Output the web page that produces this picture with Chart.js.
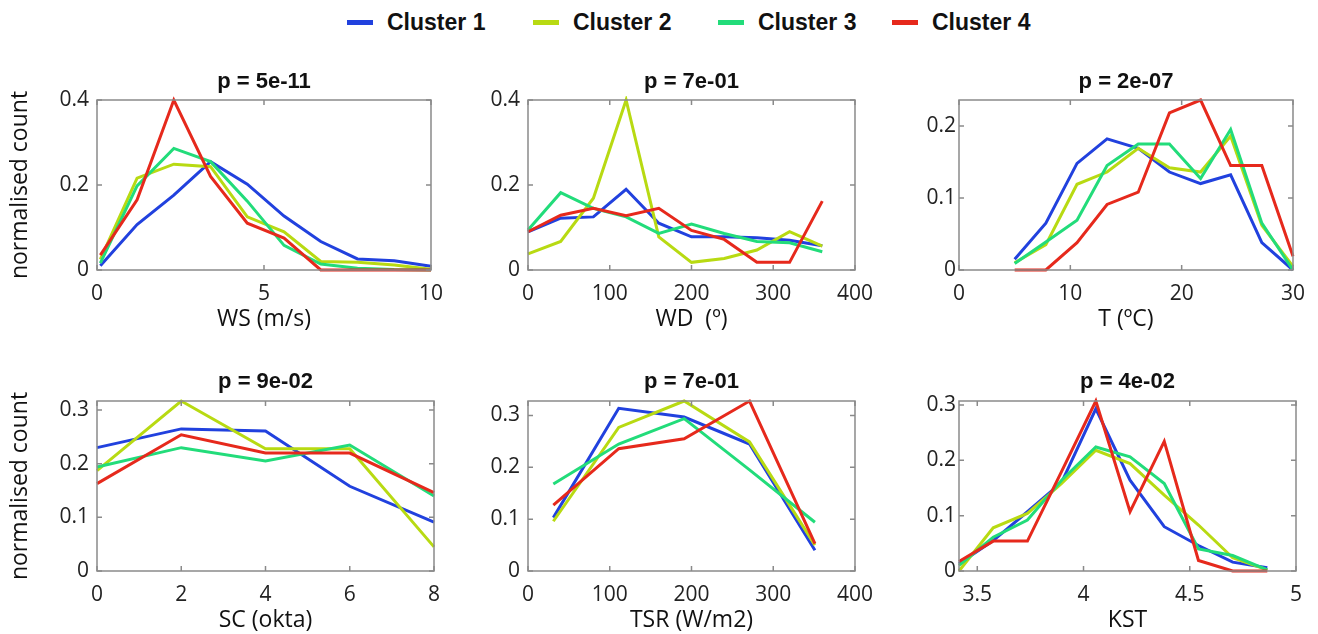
<!DOCTYPE html>
<html>
<head>
<meta charset="utf-8">
<title>Cluster distributions</title>
<script src="https://cdn.jsdelivr.net/npm/chart.js@4.4.1/dist/chart.umd.min.js"></script>
<style>
  body { margin: 0; background: #fff; width: 1318px; height: 634px; overflow: hidden; position: relative; }
  .panel { position: absolute; }
  .panel canvas { display: block; }
  .legend-item { position: absolute; top: 8px; height: 28px; display: flex; align-items: center;
    font-family: "Liberation Sans", Arial, sans-serif; font-weight: bold; font-size: 23px; color: #111; }
  .legend-item .swatch { width: 26px; height: 5px; margin-right: 14px; }
</style>
</head>
<body>
<div id="legend"></div>
<div id="panels"></div>
<script>
const clusterNames = ["Cluster 1", "Cluster 2", "Cluster 3", "Cluster 4"];
const clusterColors = ["#2141de", "#b8da12", "#22dc7a", "#e6291c"];
const yTitle = "normalised count";

// wind speed
const wsX = [0.1, 1.2, 2.3, 3.4, 4.5, 5.6, 6.7, 7.8, 8.9, 10];
const wsC1 = [0.010, 0.107, 0.176, 0.255, 0.202, 0.127, 0.067, 0.026, 0.022, 0.009];
const wsC2 = [0.025, 0.216, 0.249, 0.243, 0.125, 0.090, 0.020, 0.018, 0.012, 0.002];
const wsC3 = [0.016, 0.198, 0.286, 0.255, 0.162, 0.058, 0.014, 0.004, 0.001, 0.000];
const wsC4 = [0.035, 0.165, 0.400, 0.220, 0.110, 0.075, 0.000, 0.000, 0.000, 0.000];

// wind direction
const wdX = [0, 40, 80, 120, 160, 200, 240, 280, 320, 360];
const wdC1 = [0.090, 0.122, 0.125, 0.190, 0.110, 0.078, 0.078, 0.076, 0.070, 0.057];
const wdC2 = [0.038, 0.067, 0.169, 0.400, 0.078, 0.018, 0.027, 0.047, 0.090, 0.056];
const wdC3 = [0.094, 0.182, 0.145, 0.125, 0.086, 0.108, 0.086, 0.067, 0.064, 0.043];
const wdC4 = [0.090, 0.129, 0.145, 0.128, 0.145, 0.093, 0.072, 0.018, 0.018, 0.162];

// temperature
const tX = [5, 7.8, 10.6, 13.3, 16.1, 18.9, 21.7, 24.4, 27.2, 30];
const tC1 = [0.015, 0.065, 0.148, 0.182, 0.169, 0.136, 0.120, 0.132, 0.038, 0.000];
const tC2 = [0.010, 0.035, 0.119, 0.136, 0.169, 0.142, 0.136, 0.186, 0.062, 0.005];
const tC3 = [0.009, 0.039, 0.069, 0.145, 0.175, 0.175, 0.127, 0.195, 0.065, 0.000];
const tC4 = [0.000, 0.000, 0.038, 0.091, 0.108, 0.218, 0.236, 0.145, 0.145, 0.019];

// sky cover
const scX = [0, 2, 4, 6, 8];
const scC1 = [0.230, 0.265, 0.261, 0.158, 0.091];
const scC2 = [0.187, 0.317, 0.228, 0.228, 0.045];
const scC3 = [0.194, 0.230, 0.205, 0.235, 0.140];
const scC4 = [0.163, 0.254, 0.220, 0.220, 0.146];

// total solar radiation
const tsrX = [31, 111, 191, 271, 351];
const tsrC1 = [0.103, 0.314, 0.297, 0.245, 0.040];
const tsrC2 = [0.096, 0.277, 0.328, 0.249, 0.050];
const tsrC3 = [0.168, 0.245, 0.294, 0.195, 0.094];
const tsrC4 = [0.127, 0.236, 0.255, 0.328, 0.053];

// KST
const kstX = [3.414, 3.575, 3.736, 3.897, 4.058, 4.219, 4.380, 4.541, 4.702, 4.865];
const kstC1 = [0.013, 0.055, 0.107, 0.160, 0.293, 0.164, 0.080, 0.046, 0.016, 0.006];
const kstC2 = [0.000, 0.078, 0.104, 0.158, 0.218, 0.194, 0.137, 0.083, 0.024, 0.002];
const kstC3 = [0.010, 0.061, 0.092, 0.164, 0.224, 0.206, 0.158, 0.040, 0.028, 0.002];
const kstC4 = [0.017, 0.054, 0.054, 0.180, 0.307, 0.107, 0.234, 0.019, 0.000, 0.000];

const pTitles = ["p = 5e-11", "p = 7e-01", "p = 2e-07", "p = 9e-02", "p = 7e-01", "p = 4e-02"];
const xTitles = ["WS (m/s)", "WD  (\u00ba)", "T (\u00baC)", "SC (okta)", "TSR (W/m2)", "KST"];

const panels = [
  { xs: wsX, ys: [wsC1, wsC2, wsC3, wsC4], xMin: 0, xMax: 10, xStep: 5, yMax: 0.4, yStep: 0.2 },
  { xs: wdX, ys: [wdC1, wdC2, wdC3, wdC4], xMin: 0, xMax: 400, xStep: 100, yMax: 0.4, yStep: 0.2 },
  { xs: tX, ys: [tC1, tC2, tC3, tC4], xMin: 0, xMax: 30, xStep: 10, yMax: 0.236, yStep: 0.1 },
  { xs: scX, ys: [scC1, scC2, scC3, scC4], xMin: 0, xMax: 8, xStep: 2, yMax: 0.317, yStep: 0.1 },
  { xs: tsrX, ys: [tsrC1, tsrC2, tsrC3, tsrC4], xMin: 0, xMax: 400, xStep: 100, yMax: 0.328, yStep: 0.1 },
  { xs: kstX, ys: [kstC1, kstC2, kstC3, kstC4], xMin: 3.414, xMax: 5, xStep: 0.5, yMax: 0.307, yStep: 0.1 }
];

// plot-area boxes: columns and rows of the 2x3 grid
const cols = [{ left: 97, right: 434, yw: 97, pad: 8 }, { left: 528, right: 864, yw: 60, pad: 8 }, { left: 959, right: 1296, yw: 60, pad: 3 }];
const rows = [{ top: 100, bottom: 270 }, { top: 401, bottom: 571 }];
const TOP_SPACE = 40, X_AXIS_H = 63, RIGHT_PAD = 20;

// legend
const legend = document.getElementById("legend");
const legendX = [347, 533, 718, 892];
clusterNames.forEach((name, i) => {
  const item = document.createElement("div");
  item.className = "legend-item";
  item.style.left = legendX[i] + "px";
  item.innerHTML = `<span class="swatch" style="background:${clusterColors[i]}"></span>${name}`;
  legend.appendChild(item);
});

// box frame with inward ticks on all four sides, plus the p-value title
const framePlugin = {
  id: "frame",
  afterDraw(chart, args, opts) {
    const { ctx, chartArea: a, scales } = chart;
    ctx.save();
    ctx.strokeStyle = "#8a8a8a";
    ctx.lineWidth = 1.5;
    ctx.strokeRect(a.left, a.top, a.right - a.left, a.bottom - a.top);
    const len = 5;
    ctx.beginPath();
    scales.x.ticks.forEach(t => {
      const px = scales.x.getPixelForValue(t.value);
      ctx.moveTo(px, a.bottom); ctx.lineTo(px, a.bottom - len);
      ctx.moveTo(px, a.top); ctx.lineTo(px, a.top + len);
    });
    scales.y.ticks.forEach(t => {
      const py = scales.y.getPixelForValue(t.value);
      ctx.moveTo(a.left, py); ctx.lineTo(a.left + len, py);
      ctx.moveTo(a.right, py); ctx.lineTo(a.right - len, py);
    });
    ctx.stroke();

    ctx.fillStyle = "#111";
    ctx.font = "bold 22px 'Liberation Sans', Arial, sans-serif";
    ctx.textAlign = "center";
    ctx.textBaseline = "middle";
    ctx.fillText(opts.text, (a.left + a.right) / 2, a.top - opts.gap);
    ctx.restore();
  }
};

const tickFont = { family: "'Open Sans', sans-serif", size: 21 };
const titleFont = { family: "'Open Sans', sans-serif", size: 23, lineHeight: 1 };
const plainNumber = v => String(Number(v.toFixed(3)));

const holder = document.getElementById("panels");
panels.forEach((p, k) => {
  const col = cols[k % 3], row = rows[Math.floor(k / 3)];
  const width = col.yw + (col.right - col.left) + RIGHT_PAD;
  const height = TOP_SPACE + (row.bottom - row.top) + X_AXIS_H;

  const wrap = document.createElement("div");
  wrap.className = "panel";
  wrap.style.left = (col.left - col.yw) + "px";
  wrap.style.top = (row.top - TOP_SPACE) + "px";
  const canvas = document.createElement("canvas");
  canvas.width = width;
  canvas.height = height;
  wrap.appendChild(canvas);
  holder.appendChild(wrap);

  const datasets = p.ys.map((vals, i) => ({
    label: clusterNames[i],
    data: p.xs.map((x, j) => ({ x: x, y: vals[j] })),
    borderColor: clusterColors[i],
    borderWidth: 3,
    pointRadius: 0,
    tension: 0,
    clip: 4,
    order: 4 - i
  }));

  new Chart(canvas, {
    type: "line",
    data: { datasets },
    plugins: [framePlugin],
    options: {
      responsive: false,
      animation: false,
      events: [],
      layout: { padding: { top: TOP_SPACE, right: RIGHT_PAD, left: 0, bottom: 0 } },
      plugins: {
        legend: { display: false },
        tooltip: { enabled: false },
        frame: { text: pTitles[k], gap: k < 3 ? 18 : 19 }
      },
      scales: {
        x: {
          type: "linear",
          min: p.xMin,
          max: p.xMax,
          grid: { display: false, drawTicks: false },
          border: { display: false },
          ticks: { stepSize: p.xStep, includeBounds: false, maxRotation: 0, autoSkip: false,
                   padding: 11, color: "#222", font: tickFont, callback: plainNumber },
          title: { display: true, text: xTitles[k], color: "#111", font: titleFont,
                   padding: { top: 0, bottom: 2 } },
          afterFit(scale) { scale.height = X_AXIS_H; }
        },
        y: {
          type: "linear",
          min: 0,
          max: p.yMax,
          grid: { display: false, drawTicks: false },
          border: { display: false },
          ticks: { stepSize: p.yStep, includeBounds: false, padding: col.pad, color: "#222",
                   font: tickFont, callback: plainNumber },
          title: { display: k % 3 === 0, text: yTitle, color: "#111",
                   font: { family: "'Open Sans', sans-serif", size: 23, lineHeight: 1.2 },
                   padding: { top: 7, bottom: 0 } },
          afterFit(scale) { scale.width = col.yw; }
        }
      }
    }
  });
});
</script>
</body>
</html>
